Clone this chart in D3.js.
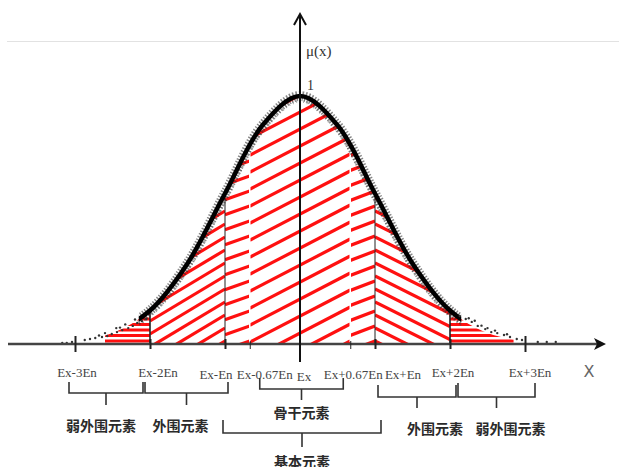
<!DOCTYPE html>
<html>
<head>
<meta charset="utf-8">
<script src="https://cdn.jsdelivr.net/npm/d3@7"></script>
<style>
  body { margin: 0; background: #fff; }
  .tick-label { font-family: "Liberation Serif", "DejaVu Serif", serif; font-size: 13px; fill: #444; }
  .zone-label { font-family: "Noto Sans CJK SC", sans-serif; font-size: 14px; font-weight: 700; fill: #2a2a2a; }
</style>
</head>
<body>
<svg class="chart"></svg>
<script>
// -------------------- Data --------------------
// x positions are in units of En, measured from Ex
var tickUnits  = [-3, -2, -1, -0.67, 0, 0.67, 1, 2, 3];
var tickLabels = ["Ex-3En", "Ex-2En", "Ex-En", "Ex-0.67En", "Ex", "Ex+0.67En", "Ex+En", "Ex+2En", "Ex+3En"];

// expectation curve, membership
var curveUnits = [-3, -2.5, -2, -1.5, -1, -0.5, 0, 0.5, 1, 1.5, 2, 2.5, 3];
var curveMu    = [0.011, 0.044, 0.135, 0.325, 0.607, 0.882, 1, 0.882, 0.607, 0.325, 0.135, 0.044, 0.011];

// sparse cloud drops in the tails
var dropUnits = [-3.17, -3.11, -3.04, -2.87, -2.8, -2.73, -2.64, -2.57, -2.51, -2.44, -2.37, -2.29, -2.23, -2.17, -2.11, -2.05,
                 -2.6, -2.45, -2.33, -2.2, -2.68, -2.4,
                 2.13, 2.21, 2.29, 2.37, 2.47, 2.55, 2.63, 2.72, 2.8, 2.89, 2.96, 3.17, 3.29, 3.41,
                 2.25, 2.42, 2.6, 2.76, 2.33, 2.5];
var dropMu    = [0, 0, 0.004, 0.012, 0.016, 0.02, 0.024, 0.028, 0.036, 0.044, 0.052, 0.06, 0.069, 0.081, 0.089, 0.097,
                 0.04, 0.06, 0.075, 0.095, 0.03, 0.062,
                 0.109, 0.097, 0.085, 0.069, 0.056, 0.044, 0.04, 0.032, 0.024, 0.016, 0.012, 0.004, 0.004, 0.004,
                 0.1, 0.07, 0.05, 0.035, 0.09, 0.06];

// zones of elements
var zoneNames = ["弱外围元素", "外围元素", "骨干元素", "基本元素", "外围元素", "弱外围元素"];
var zoneFrom  = [-3, -2, -0.67, -1, 1, 2];
var zoneTo    = [-2, -1, 0.67, 1, 2, 3];

// hatched regions under the curve
var hatchFrom = [-2.6, -2, -1, -0.67, 0.67, 1, 2];
var hatchTo   = [-2, -1, -0.67, 0.67, 1, 2, 2.85];

// -------------------- Settings --------------------
var W = 619, H = 467;
var axisY = 344, peakY = 96, originX = 300, En = 75;

var svg = d3.select(".chart").attr("width", W).attr("height", H);

var x = d3.scaleLinear().domain([0, 1]).range([originX, originX + En]);
var y = d3.scaleLinear().domain([0, 1]).range([axisY, peakY]);

var pts = curveUnits.map(function(u, i) { return [u, curveMu[i]]; });
var line = d3.line().x(function(d) { return x(d[0]); }).y(function(d) { return y(d[1]); })
  .curve(d3.curveCatmullRom);
var area = d3.area().x(function(d) { return x(d[0]); }).y0(axisY).y1(function(d) { return y(d[1]); })
  .curve(d3.curveCatmullRom);

var defs = svg.append("defs");
defs.append("clipPath").attr("id", "under")
  .append("path").attr("d", area(pts));

// thin gray line near the top
svg.append("line")
  .attr("x1", 7).attr("x2", W).attr("y1", 41.5).attr("y2", 41.5)
  .attr("stroke", "#e2e2e2").attr("stroke-width", 1);

// -------------------- Hatching --------------------
// style for each hatched region: slope (px rise per px), vertical gap
var hatchStyle = [
  { slope: 0,     gap: 5.5 },
  { slope: 0.6,   gap: 13 },
  { slope: 0.35,  gap: 15 },
  { slope: 0.52,  gap: 17 },
  { slope: 0.38,  gap: 15 },
  { slope: -0.5,  gap: 13 },
  { slope: 0,     gap: 5.5 }
];

hatchFrom.forEach(function(u0, i) {
  var x0 = x(u0), x1 = x(hatchTo[i]), st = hatchStyle[i];
  defs.append("clipPath").attr("id", "zone" + i)
    .append("rect").attr("x", x0).attr("y", 0).attr("width", x1 - x0).attr("height", axisY);
  var g = svg.append("g").attr("clip-path", "url(#zone" + i + ")")
    .append("g").attr("clip-path", "url(#under)");
  var w = x1 - x0, ext = Math.abs(st.slope) * w;
  var rows = [];
  for (var c = axisY - 3 + ext; c > peakY - ext - st.gap; c -= st.gap) rows.push(c);
  g.selectAll("line").data(rows).enter().append("line")
    .attr("x1", x0).attr("x2", x1)
    .attr("y1", function(c) { return st.slope >= 0 ? c : c - ext; })
    .attr("y2", function(c) { return st.slope >= 0 ? c - ext : c; })
    .attr("stroke", "#ff1010").attr("stroke-width", 3.2);
});

// boundaries inside the cloud
[-2, -1, 1, 2].forEach(function(u) {
  var mu = curveMu[curveUnits.indexOf(u)];
  svg.append("line")
    .attr("x1", x(u)).attr("x2", x(u)).attr("y1", axisY).attr("y2", y(mu))
    .attr("stroke", "#222").attr("stroke-width", Math.abs(u) === 2 ? 1.6 : 1);
});
[-0.67, 0.67].forEach(function(u) {
  svg.append("line")
    .attr("x1", x(u)).attr("x2", x(u)).attr("y1", axisY - 2).attr("y2", peakY)
    .attr("stroke", "#fff").attr("stroke-width", 1.5)
    .attr("clip-path", "url(#under)");
});

// -------------------- Cloud --------------------
defs.append("clipPath").attr("id", "band")
  .append("rect").attr("x", x(-2.15)).attr("y", 0).attr("width", x(2.15) - x(-2.15)).attr("height", H);

var band = svg.append("g").attr("clip-path", "url(#band)");
band.append("path").attr("d", line(pts))
  .attr("fill", "none").attr("stroke", "#222").attr("stroke-width", 10)
  .attr("stroke-dasharray", "1.4 1.6").attr("opacity", 0.55);
band.append("path").attr("d", line(pts)).attr("transform", "translate(0,3)")
  .attr("fill", "none").attr("stroke", "#444").attr("stroke-width", 7)
  .attr("stroke-dasharray", "1 3.2").attr("opacity", 0.5);
band.append("path").attr("d", line(pts))
  .attr("fill", "none").attr("stroke", "#000").attr("stroke-width", 4.5);

svg.append("g").selectAll("circle")
  .data(dropUnits.map(function(u, i) { return [u, dropMu[i]]; }))
  .enter().append("circle")
    .attr("cx", function(d) { return x(d[0]); })
    .attr("cy", function(d) { return y(d[1]) - 1; })
    .attr("r", 1.2)
    .attr("fill", "#333");

// -------------------- Axes --------------------
svg.append("line")
  .attr("x1", 8).attr("x2", 598).attr("y1", axisY).attr("y2", axisY)
  .attr("stroke", "#444").attr("stroke-width", 2.5);
svg.append("path")
  .attr("d", "M606," + axisY + "L594," + (axisY - 6) + "L597," + axisY + "L594," + (axisY + 6) + "Z")
  .attr("fill", "#111");

var xAxis = d3.axisBottom(x).tickValues(tickUnits).tickFormat("").tickSizeOuter(0);
var gx = svg.append("g").attr("transform", "translate(0," + axisY + ")").call(xAxis);
gx.select(".domain").remove();
gx.selectAll(".tick line")
  .attr("y1", function(u) { return Math.abs(u) === 3 ? -8 : (Math.abs(u) < 1 ? -3 : -5); })
  .attr("y2", function(u) { return Math.abs(u) === 3 ? 8 : 5; })
  .attr("stroke", "#222")
  .attr("stroke-width", function(u) { return Math.abs(u) < 1 ? 1 : 2; });

// y axis
svg.append("line")
  .attr("x1", originX).attr("x2", originX).attr("y1", 362).attr("y2", 15)
  .attr("stroke", "#111").attr("stroke-width", 2);
svg.append("path")
  .attr("d", "M" + (originX - 6) + ",25L" + originX + ",14L" + (originX + 6) + ",25")
  .attr("fill", "none").attr("stroke", "#111").attr("stroke-width", 2);

svg.append("text").attr("class", "tick-label").attr("x", 306).attr("y", 56)
  .style("font-size", "15px").style("fill", "#333").text("μ(x)");
svg.append("text").attr("class", "tick-label").attr("x", 307).attr("y", 90)
  .style("font-size", "14px").style("fill", "#333").text("1");
svg.append("text").attr("x", 589).attr("y", 377).attr("text-anchor", "middle")
  .style("font-family", "DejaVu Sans, sans-serif").style("font-size", "16px").style("fill", "#666").text("X");

// tick labels, nudged so they do not collide
var labelDx = [2, 8, -9, 15, 4, 3, 28, 3, 5];
var labelY  = [377, 377, 379, 379, 381, 379, 379, 377, 377];
svg.append("g").selectAll("text")
  .data(tickLabels).enter().append("text")
    .attr("class", "tick-label")
    .attr("x", function(d, i) { return x(tickUnits[i]) + labelDx[i]; })
    .attr("y", function(d, i) { return labelY[i]; })
    .attr("text-anchor", "middle")
    .text(function(d) { return d; });

// -------------------- Brackets --------------------
var brk = [
  { dl: -6, dr: -7, top: 382, bar: 393, tip: 405, tdx: -5, ty: 431 },
  { dl: -5, dr: 3,  top: 382, bar: 393, tip: 405, tdx: -6, ty: 431 },
  { dl: 10, dr: -7, top: 378, bar: 389, tip: 400, tdx: 0,  ty: 418 },
  { dl: -2, dr: 6,  top: 420, bar: 433, tip: 447, tdx: 0,  ty: 467 },
  { dl: 3,  dr: 6,  top: 385, bar: 397, tip: 408, tdx: 18, ty: 434 },
  { dl: 8,  dr: 10, top: 383, bar: 397, tip: 408, tdx: 14, ty: 434 }
];

var gb = svg.append("g");
zoneNames.forEach(function(name, i) {
  var b = brk[i];
  var xl = x(zoneFrom[i]) + b.dl, xr = x(zoneTo[i]) + b.dr, xm = (xl + xr) / 2;
  gb.append("path")
    .attr("d", "M" + xl + "," + b.top + "V" + b.bar + "H" + xr + "V" + b.top +
               "M" + xm + "," + b.bar + "V" + b.tip)
    .attr("fill", "none").attr("stroke", "#333").attr("stroke-width", 1.6);
  gb.append("text").attr("class", "zone-label")
    .attr("x", xm + b.tdx).attr("y", b.ty).attr("text-anchor", "middle").text(name);
});
</script>
</body>
</html>
